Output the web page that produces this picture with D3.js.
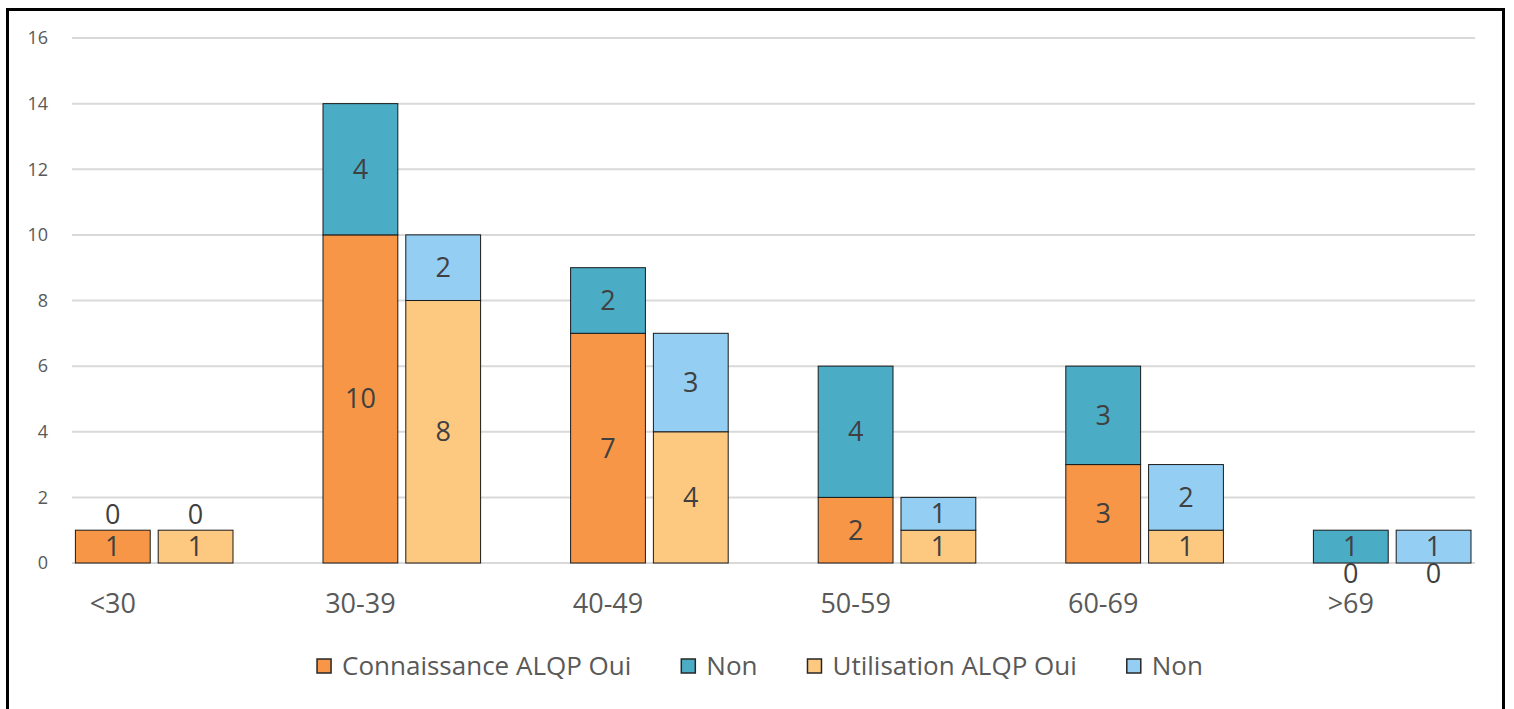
<!DOCTYPE html>
<html><head><meta charset="utf-8">
<script src="https://cdn.jsdelivr.net/npm/d3@7/dist/d3.min.js"></script>
<style>html,body{margin:0;padding:0;background:#fff;}svg{display:block;}</style>
</head><body>
<svg id="c" width="1514" height="709"></svg>
<script>
const categories = ["<30","30-39","40-49","50-59","60-69",">69"];
const connaissanceOui = [1,10,7,2,3,0];
const connaissanceNon = [0,4,2,4,3,1];
const utilisationOui = [1,8,4,1,1,0];
const utilisationNon = [0,2,3,1,2,1];
const yTicks = [0,2,4,6,8,10,12,14,16];
const legendLabels = ["Connaissance ALQP Oui","Non","Utilisation ALQP Oui","Non"];
const colors = ["#F79646","#4BACC6","#FDC981","#94CFF3"];

const svg = d3.select("#c");
const fontMain = "'Open Sans', sans-serif";

svg.append("rect").attr("x",7.5).attr("y",9.5).attr("width",1496).attr("height",720)
  .attr("fill","#fff").attr("stroke","#000").attr("stroke-width",3);

const y = d3.scaleLinear().domain([0,16]).range([563,38]);
const x = d3.scaleBand().domain(categories).range([30.4, 30.4+6*247.6])
  .paddingInner(0.3635).paddingOuter(0.18175);
const xs = d3.scaleBand().domain(["c","u"]).range([0, x.bandwidth()]).paddingInner(0.0964).paddingOuter(0);

// gridlines
svg.append("g").selectAll("line").data(yTicks).join("line")
  .attr("x1",72).attr("x2",1475).attr("y1",d=>y(d)).attr("y2",d=>y(d))
  .attr("stroke","#d9d9d9").attr("stroke-width",2);

// y ticks
svg.append("g").selectAll("text").data(yTicks).join("text")
  .attr("x",48).attr("y",d=>y(d)).attr("dy","0.35em").attr("text-anchor","end")
  .attr("font-family",fontMain).attr("font-size",18).attr("fill","#595959").text(d=>d);

const groups = [
  {key:"c", oui:connaissanceOui, non:connaissanceNon, cOui:colors[0], cNon:colors[1]},
  {key:"u", oui:utilisationOui, non:utilisationNon, cOui:colors[2], cNon:colors[3]}
];
const bars = svg.append("g");
const labels = svg.append("g");
groups.forEach(g=>{
  categories.forEach((cat,i)=>{
    const bx = x(cat)+xs(g.key), bw = xs.bandwidth();
    const segs = [
      {v0:0, v1:g.oui[i], col:g.cOui, val:g.oui[i], pos:"bottom"},
      {v0:g.oui[i], v1:g.oui[i]+g.non[i], col:g.cNon, val:g.non[i], pos:"top"}
    ];
    segs.forEach(s=>{
      if (s.val>0) {
        bars.append("rect").attr("x",bx).attr("y",y(s.v1)).attr("width",bw)
          .attr("height",y(s.v0)-y(s.v1)).attr("fill",s.col)
          .attr("stroke","#1a1a1a").attr("stroke-width",1);
      }
      let ly = (y(s.v0)+y(s.v1))/2;
      if (s.val===0) ly = s.pos==="top" ? y(s.v1)-16 : y(s.v0)+11;
      labels.append("text").attr("x",bx+bw/2).attr("y",ly).attr("dy","0.35em")
        .attr("text-anchor","middle").attr("font-family",fontMain).attr("font-size",27)
        .attr("fill","#404040").text(s.val);
    });
  });
});

// category labels
svg.append("g").selectAll("text").data(categories).join("text")
  .attr("x",d=>x(d)+xs("c")+xs.bandwidth()/2).attr("y",604).attr("dy","0.35em")
  .attr("text-anchor","middle").attr("font-family",fontMain).attr("font-size",27)
  .attr("fill","#595959").text(d=>d);

// legend
const lg = svg.append("g");
const items = [];
legendLabels.forEach((t,i)=>{
  const it = lg.append("g");
  it.append("rect").attr("x",0).attr("y",-7).attr("width",14).attr("height",14)
    .attr("fill",colors[i]).attr("stroke","#262626").attr("stroke-width",1.5);
  const tx = it.append("text").attr("x",25).attr("y",0).attr("dy","0.35em")
    .attr("font-family",fontMain).attr("font-size",26).attr("fill","#595959").text(t);
  const w = 25 + tx.node().getComputedTextLength();
  items.push({it,w});
});
const gap = 50;
const total = d3.sum(items,d=>d.w) + gap*(items.length-1);
let lx = 760 - total/2;
items.forEach(d=>{ d.it.attr("transform",`translate(${lx},666)`); lx += d.w + gap; });
</script>
</body></html>
